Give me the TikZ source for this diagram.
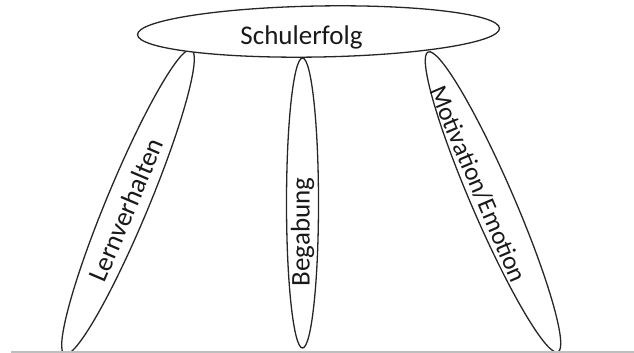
\documentclass[tikz,border=0pt]{standalone}
\usepackage{fontspec}
\setmainfont{Carlito}
\usetikzlibrary{shapes.geometric}
\begin{document}
\begin{tikzpicture}[x=1pt,y=-1pt,
  leg/.style={draw=black!85, line width=1.3pt, ellipse, inner sep=0pt, outer sep=0pt},
  lbl/.style={font=\fontsize{27}{32}\selectfont, text=black!90, inner sep=0pt}]
\useasboundingbox (0,0) rectangle (634,353);
\node[leg, minimum width=330pt, minimum height=42pt, rotate=67.4] (lern) at (128,202) {};
\node[leg, minimum width=290pt, minimum height=32pt, rotate=90] (beg) at (302.5,203) {};
\node[leg, minimum width=327pt, minimum height=42pt, rotate=-66.6] (mot) at (493,202) {};
\node[leg, fill=white, minimum width=362pt, minimum height=51pt, rotate=1] (top) at (318.5,31.5) {};
\node[lbl, anchor=base] (t0) at (301.5,45) {Schulerfolg};
\node[lbl, rotate=67] (t1) at (126,210) {Lernverhalten};
\node[lbl, rotate=90] (t2) at (302.5,232) {Begabung};
\node[lbl, font=\fontsize{25.5}{30}\selectfont, rotate=-67] (t3) at (478,184) {Motivation/Emotion};
\coordinate (bl) at (11,352);
\coordinate (br) at (634,352);
\draw[black!25, line width=1.2pt] (bl) -- (br);
\end{tikzpicture}
\end{document}
